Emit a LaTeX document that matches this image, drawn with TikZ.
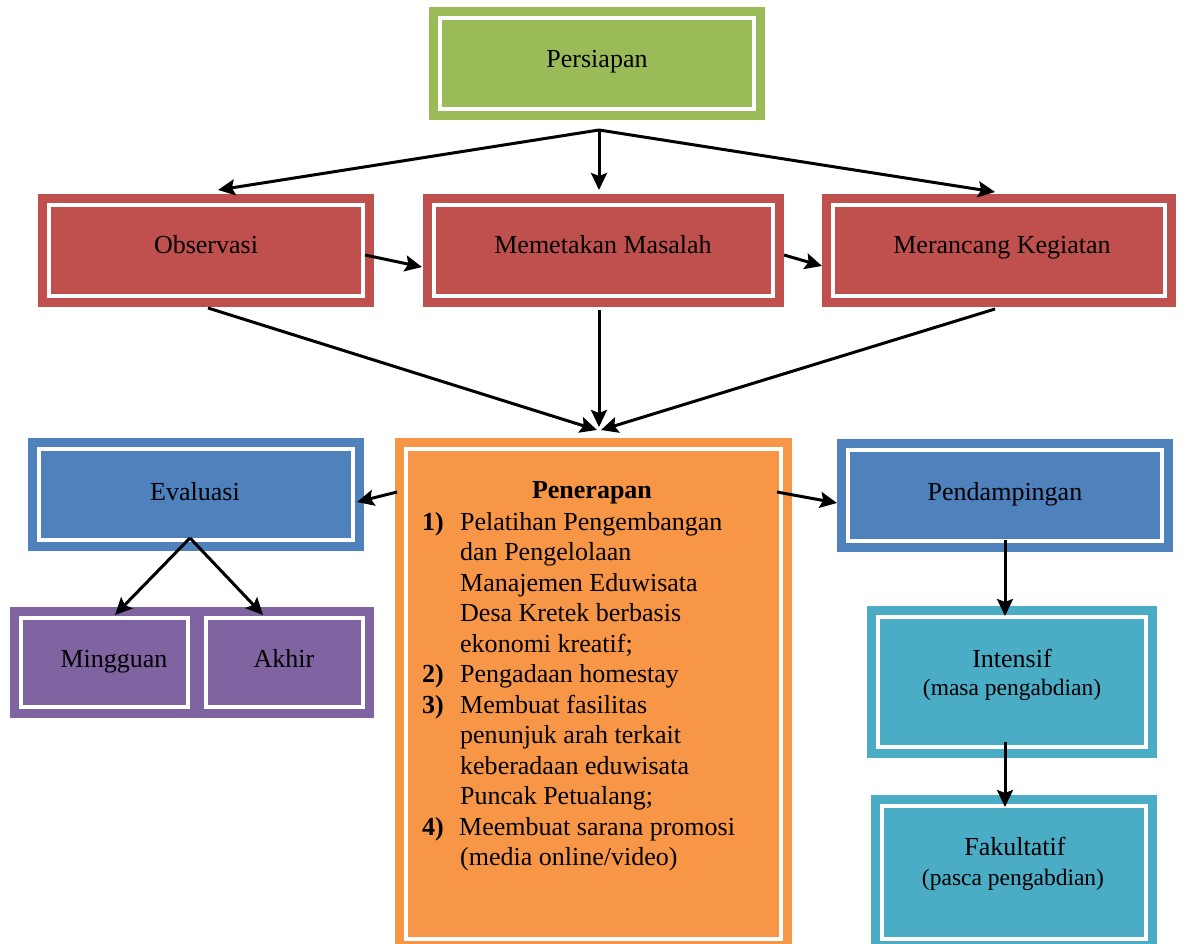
\documentclass[tikz,border=0pt]{standalone}
\usepackage{fontspec}
\setmainfont{Liberation Serif}
\usetikzlibrary{arrows.meta}
\definecolor{cgreen}{HTML}{9BBB59}
\definecolor{cred}{HTML}{C0504D}
\definecolor{corange}{HTML}{F79646}
\definecolor{cblue}{HTML}{4F81BD}
\definecolor{cpurple}{HTML}{8064A2}
\definecolor{cteal}{HTML}{4BACC6}
\begin{document}
\begin{tikzpicture}[x=1pt,y=-1pt,
  dbox/.style={rectangle, fill=#1, draw=white, line width=4pt, inner sep=0pt,
    preaction={draw=#1, line width=22pt}},
  txt/.style={font=\fontsize{26}{30}\selectfont, anchor=base, inner sep=0pt},
  subtxt/.style={font=\fontsize{23.5}{28}\selectfont, anchor=base, inner sep=0pt},
  lst/.style={font=\fontsize{26}{30}\selectfont, anchor=base west, inner sep=0pt},
  arr/.style={draw=black, line width=3pt, -{Stealth[length=17pt,width=16pt,inset=3pt]}}]
\useasboundingbox (0,0) rectangle (1186,944);
\clip (0,0) rectangle (1186,944);
\fill[white] (0,0) rectangle (1186,944);

% boxes
\node[dbox=cgreen, minimum width=314pt, minimum height=91pt] (persiapan) at (597,63.5) {};
\node[dbox=cred, minimum width=314pt, minimum height=91pt] (obs) at (206,250.5) {};
\node[dbox=cred, minimum width=339pt, minimum height=91pt] (mem) at (603.5,250.5) {};
\node[dbox=cred, minimum width=332pt, minimum height=91pt] (mer) at (999,250.5) {};
\node[dbox=cblue, minimum width=314pt, minimum height=91pt] (eva) at (196,494.5) {};
\node[dbox=cpurple, minimum width=167pt, minimum height=89pt] (ming) at (104.5,662.5) {};
\node[dbox=cpurple, minimum width=157pt, minimum height=89pt] (akhir) at (284.5,662.5) {};
\node[dbox=corange, minimum width=375pt, minimum height=490pt] (pen) at (593.5,694) {};
\node[dbox=cblue, minimum width=314pt, minimum height=91pt] (pend) at (1005,495.5) {};
\node[dbox=cteal, minimum width=268pt, minimum height=130pt] (int) at (1012,682) {};
\node[dbox=cteal, minimum width=264pt, minimum height=133pt] (fak) at (1014,872.5) {};

% texts
\node[txt] (tpersiapan) at (597,68) {Persiapan};
\node[txt] (tobs) at (206,254) {Observasi};
\node[txt] (tmem) at (603,254) {Memetakan Masalah};
\node[txt] (tmer) at (1002,254) {Merancang Kegiatan};
\node[txt] (teva) at (195,500) {Evaluasi};
\node[txt] (tming) at (114,667) {Mingguan};
\node[txt] (takhir) at (284,667) {Akhir};
\node[txt] (tpend) at (1005,500) {Pendampingan};
\node[txt] (tint) at (1012,667) {Intensif};
\node[subtxt] (tint2) at (1012,695) {(masa pengabdian)};
\node[txt] (tfak) at (1015,855) {Fakultatif};
\node[subtxt] (tfak2) at (1013,885) {(pasca pengabdian)};

\node[txt] (tpen) at (592,498) {\textbf{Penerapan}};
\node[lst] (n1) at (422,530) {\textbf{1)}};
\node[lst] (l1) at (460,530) {Pelatihan Pengembangan};
\node[lst] (l2) at (460,560.5) {dan Pengelolaan};
\node[lst] (l3) at (460,591) {Manajemen Eduwisata};
\node[lst] (l4) at (460,621.5) {Desa Kretek berbasis};
\node[lst] (l5) at (460,652) {ekonomi kreatif;};
\node[lst] (n2) at (422,682.5) {\textbf{2)}};
\node[lst] (l6) at (460,682.5) {Pengadaan homestay};
\node[lst] (n3) at (422,713) {\textbf{3)}};
\node[lst] (l7) at (460,713) {Membuat fasilitas};
\node[lst] (l8) at (460,743.5) {penunjuk arah terkait};
\node[lst] (l9) at (460,774) {keberadaan eduwisata};
\node[lst] (l10) at (460,804.5) {Puncak Petualang;};
\node[lst] (n4) at (422,835) {\textbf{4)}};
\node[lst] (l11) at (459,835) {Meembuat sarana promosi};
\node[lst] (l12) at (460,865.5) {(media online/video)};

% connector points
\coordinate (ps) at (599,130);
\coordinate (obsT) at (218,190);
\coordinate (memT) at (599,190);
\coordinate (merT) at (995,192);
\coordinate (obsR) at (365,255);
\coordinate (memL) at (422,267);
\coordinate (memR) at (784,255);
\coordinate (merL) at (822,266);
\coordinate (obsB) at (208,308);
\coordinate (memB) at (599,310);
\coordinate (merB) at (995,309);
\coordinate (penT1) at (597,430);
\coordinate (penT2) at (599,427);
\coordinate (penT3) at (601,430);
\coordinate (penL) at (397,492);
\coordinate (evaR) at (357,502);
\coordinate (penR) at (777,492);
\coordinate (pendL) at (837,503);
\coordinate (evaB) at (190,538);
\coordinate (mingT) at (115,615);
\coordinate (akhirT) at (263,615);
\coordinate (pendB) at (1005,540);
\coordinate (intT) at (1005,616);
\coordinate (intB) at (1005,742);
\coordinate (fakT) at (1005,807);

% connectors
\draw[arr] (ps) -- (obsT);
\draw[arr] (ps) -- (memT);
\draw[arr] (ps) -- (merT);
\draw[arr] (obsR) -- (memL);
\draw[arr] (memR) -- (merL);
\draw[arr] (obsB) -- (penT1);
\draw[arr] (memB) -- (penT2);
\draw[arr] (merB) -- (penT3);
\draw[arr] (penL) -- (evaR);
\draw[arr] (penR) -- (pendL);
\draw[arr] (evaB) -- (mingT);
\draw[arr] (evaB) -- (akhirT);
\draw[arr] (pendB) -- (intT);
\draw[arr] (intB) -- (fakT);
\end{tikzpicture}
\end{document}
